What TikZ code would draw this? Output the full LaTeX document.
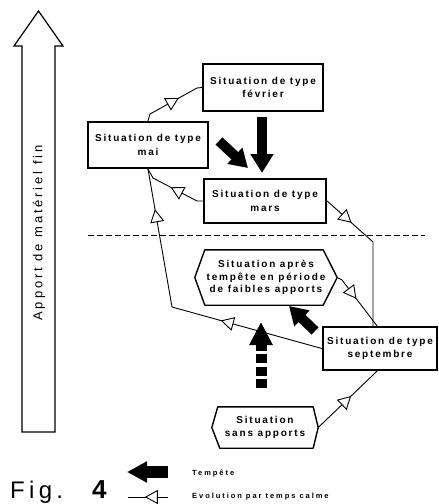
\documentclass[tikz,border=0pt]{standalone}
\usepackage{fontspec}
\newfontfamily\labfont[LetterSpace=18]{Liberation Sans}
\newfontfamily\legfont[LetterSpace=26]{Liberation Sans}
\newfontfamily\axfont[LetterSpace=22]{Liberation Sans}
\newfontfamily\figfont[LetterSpace=18]{Liberation Sans}
\usetikzlibrary{arrows.meta,decorations.markings}
\begin{document}
\begin{tikzpicture}[x=1pt,y=-1pt,
  box/.style={draw, line width=2.3pt, inner sep=0pt, align=center,
    font=\labfont\bfseries\fontsize{10}{13.5}\selectfont},
  hexa/.style={inner sep=0pt, align=center,
    font=\labfont\bfseries\fontsize{10}{12.5}\selectfont},
  hexline/.style={line width=1.4pt, line join=round},
  calm/.style={line width=0.9pt},
  tri/.style={postaction={decorate, decoration={markings,
    mark=at position #1 with {\arrow{Triangle[open, fill=white, length=13pt, width=14pt]}}}}},
  storm/.style={line width=10pt, -{Triangle[length=19pt,width=22pt]}},
  stormshort/.style={line width=10pt, -{Triangle[length=18pt,width=21pt]}},
]
\useasboundingbox (0,0) rectangle (439,504);

% big hollow axis arrow
\draw[line width=1.2pt, line join=miter] (22,432) -- (22,46) -- (14,46) -- (38.5,11) -- (63,46) -- (55,46) -- (55,432) -- cycle;
\node[rotate=90, inner sep=0pt, font=\axfont\fontsize{13}{13}\selectfont] (axis) at (39,233) {Apport de matériel fin};

% dashed separation line
\coordinate (dl1) at (88,235);
\coordinate (dl2) at (425,235);
\draw[line width=1pt, dash pattern=on 6pt off 3pt] (dl1) -- (dl2);

% situation boxes
\node[box, minimum width=120pt, minimum height=47pt] (fev) at (263,87.5) {Situation de type\\février};
\node[box, minimum width=120pt, minimum height=46pt] (mai) at (148,145) {Situation de type\\mai};
\node[box, minimum width=122pt, minimum height=44pt] (mars) at (265,201) {Situation de type\\mars};
\node[box, minimum width=114pt, minimum height=43pt] (sept) at (380,348.5) {Situation de type\\septembre};

% hexagonal situations
\node[hexa, minimum width=142pt, minimum height=55pt] (apres) at (266,277.5) {Situation après\\tempête en période\\de faibles apports};
\draw[hexline] (apres.west) -- ([xshift=10pt]apres.north west) -- ([xshift=-14pt]apres.north east) -- (apres.east) -- ([xshift=-14pt]apres.south east) -- ([xshift=10pt]apres.south west) -- cycle;
\node[hexa, minimum width=106pt, minimum height=41pt] (sans) at (265,427.5) {Situation\\sans apports};
\draw[hexline] (sans.west) -- ([xshift=6pt]sans.north west) -- ([xshift=-5pt]sans.north east) -- (sans.east) -- ([xshift=-5pt]sans.south east) -- ([xshift=8pt]sans.south west) -- cycle;

% calm evolutions
\draw[calm, tri=0.61] (mai.north) -- (150,114) -- (197,88) -- (fev.west);
\draw[calm, tri=0.54] (mars.west) -- (197,201) -- (153,178) -- (mai.south);
\draw[calm, tri=0.355, tri=0.862] (sept.west) -- (172,307) -- (mai.south);
\draw[calm, tri=0.225] (mars.east) -- (373,242) -- ([xshift=-7pt]sept.north);
\draw[calm, tri=0.46] (apres.east) -- (342,280) -- ([xshift=-3pt]sept.north);
\draw[calm, tri=0.56] (sans.east) -- ([xshift=-3pt]sept.south);

% storms
\coordinate (s1a) at (262,117);
\coordinate (s1b) at (262,173);
\draw[storm] (s1a) -- (s1b);
\coordinate (s2a) at (219,141);
\coordinate (s2b) at (248,168);
\draw[stormshort] (s2a) -- (s2b);
\coordinate (s3a) at (315,331);
\coordinate (s3b) at (289,306);
\draw[stormshort] (s3a) -- (s3b);
\coordinate (s4a) at (261,388);
\coordinate (s4b) at (261,322);
\draw[line width=11pt, dash pattern=on 9pt off 3.5pt, -{Triangle[length=23pt,width=22pt]}] (s4a) -- (s4b);

% legend
\coordinate (ls1) at (168,472);
\coordinate (ls2) at (127,472);
\draw[line width=12pt, -{Triangle[length=20pt,width=20pt]}] (ls1) -- (ls2);
\node[anchor=west, inner sep=0pt, font=\legfont\bfseries\fontsize{7.5}{8}\selectfont] (legT) at (192,473) {Tempête};
\coordinate (lc1) at (168,497);
\coordinate (lc2) at (128,497);
\draw[calm, tri=0.58] (lc1) -- (lc2);
\node[anchor=west, inner sep=0pt, font=\legfont\bfseries\fontsize{7.5}{8}\selectfont] (legE) at (192,497) {Evolution par temps calme};

\node[anchor=base west, inner sep=0pt, font=\figfont\fontsize{24}{24}\selectfont] (fig) at (10,498.5) {Fig.};
\node[anchor=base west, inner sep=0pt, font=\figfont\bfseries\fontsize{26}{26}\selectfont] (four) at (92,498.5) {4};
\end{tikzpicture}
\end{document}
